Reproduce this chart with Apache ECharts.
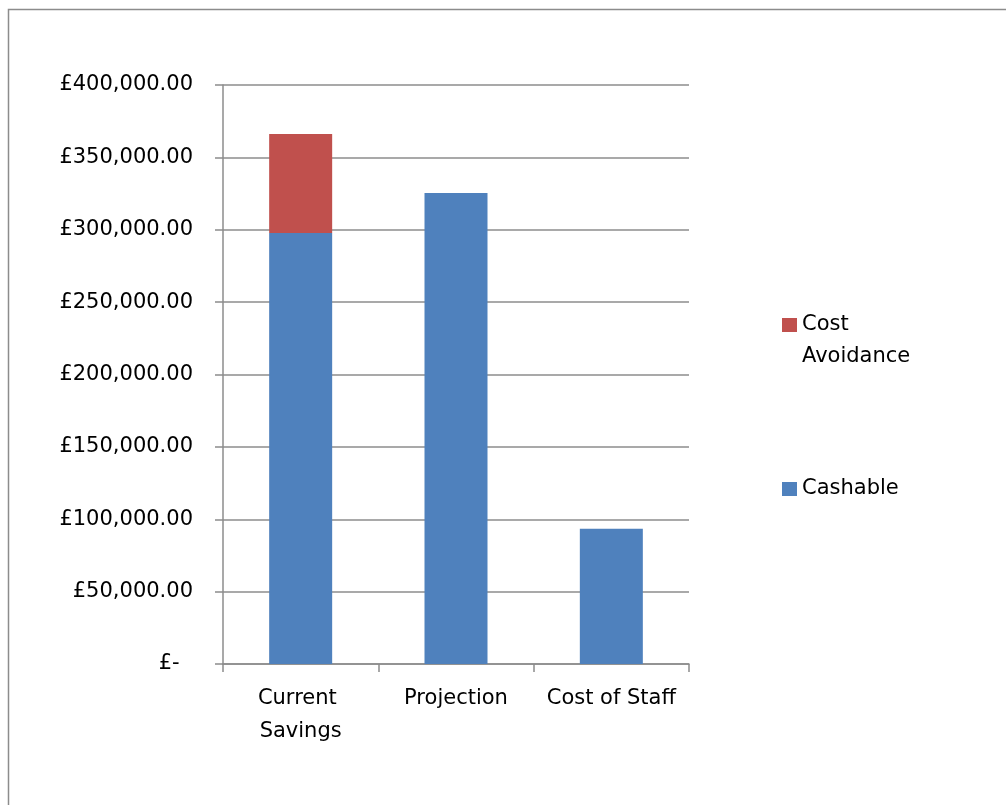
<!DOCTYPE html>
<html>
<head>
<meta charset="utf-8">
<script src="https://cdn.jsdelivr.net/npm/echarts@6/dist/echarts.min.js"></script>
<style>
html,body{margin:0;padding:0;background:#fff;}
#c{width:1006px;height:805px;}
</style>
</head>
<body>
<div id="c"></div>
<script>
var categories = ['Current Savings', 'Projection', 'Cost of Staff'];
var cashable = [297700, 325400, 93500];
var costAvoidance = [68400, 0, 0];
var yTicks = [0, 50000, 100000, 150000, 200000, 250000, 300000, 350000, 400000];

var FONT = 'DejaVu Sans';
var AXIS = '#8c8c8c';

function money(v) {
  if (v === 0) return '£-  ';
  return '£' + v.toLocaleString('en-GB', {minimumFractionDigits: 2, maximumFractionDigits: 2});
}

var chart = echarts.init(document.getElementById('c'));
chart.setOption({
  animation: false,
  backgroundColor: '#fff',
  graphic: [{
    type: 'rect',
    shape: {x: 8.5, y: 9.5, width: 1020, height: 820},
    style: {fill: 'none', stroke: AXIS, lineWidth: 1.5},
    silent: true,
    z: -10
  }],
  grid: {left: 223, right: 317, top: 85, bottom: 141, containLabel: false},
  legend: {
    orient: 'vertical',
    left: 782,
    top: 277,
    padding: 0,
    itemGap: 100,
    itemWidth: 15,
    itemHeight: 14,
    icon: 'rect',
    data: ['Cost Avoidance', 'Cashable'],
    formatter: function (name) {
      return name === 'Cost Avoidance' ? '\u00a0\nCost\nAvoidance' : name;
    },
    textStyle: {fontFamily: FONT, fontSize: 21, color: '#000', lineHeight: 32}
  },
  xAxis: {
    type: 'category',
    data: categories,
    axisLine: {lineStyle: {color: AXIS, width: 1.5}},
    axisTick: {show: true, length: 8, alignWithLabel: false, lineStyle: {color: AXIS, width: 1.5}},
    axisLabel: {
      fontFamily: FONT, fontSize: 21, color: '#000', lineHeight: 33,
      margin: 18, width: 150, overflow: 'break', interval: 0
    }
  },
  yAxis: {
    type: 'value',
    min: yTicks[0],
    max: yTicks[yTicks.length - 1],
    interval: yTicks[1] - yTicks[0],
    axisLine: {show: true, lineStyle: {color: AXIS, width: 1.5}},
    axisTick: {show: true, length: 8, lineStyle: {color: AXIS, width: 1.5}},
    splitLine: {show: true, lineStyle: {color: AXIS, width: 1.5}},
    axisLabel: {
      fontFamily: FONT, fontSize: 21, color: '#000', margin: 30,
      formatter: money
    }
  },
  series: [{
    name: 'Cashable',
    type: 'bar',
    stack: 'total',
    data: cashable,
    barWidth: 63,
    itemStyle: {color: '#4F81BD'}
  }, {
    name: 'Cost Avoidance',
    type: 'bar',
    stack: 'total',
    data: costAvoidance,
    barWidth: 63,
    itemStyle: {color: '#C0504D'}
  }]
});
</script>
</body>
</html>
